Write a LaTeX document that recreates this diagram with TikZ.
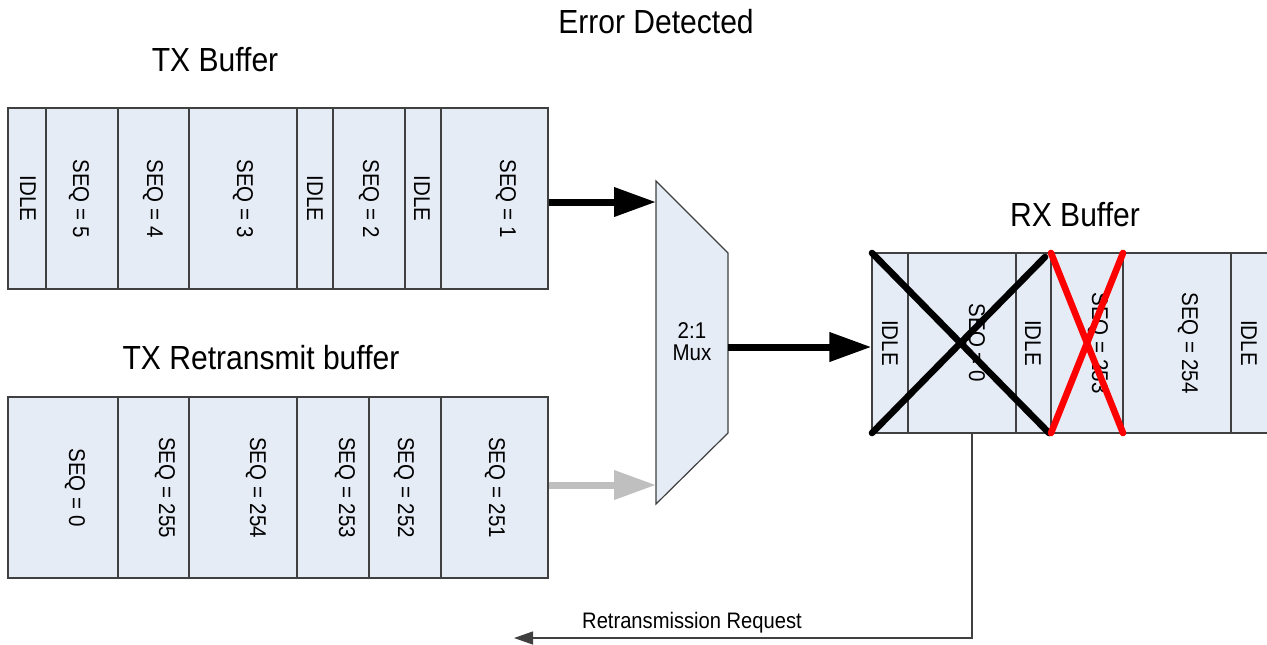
\documentclass[tikz,border=0pt]{standalone}
\usepackage{fontspec}
\setmainfont[FakeStretch=0.9]{Liberation Sans}
\usetikzlibrary{arrows.meta}
\definecolor{cellblue}{RGB}{230,236,246}
\definecolor{edgegray}{RGB}{64,64,64}
\definecolor{arrowgray}{RGB}{191,191,191}
\begin{document}
\begin{tikzpicture}[x=0.5pt,y=0.5pt]
    \tikzstyle{buffer} = [draw = edgegray, fill = cellblue, line width = 0.6pt, inner sep = 0pt]
    \tikzstyle{divider} = [draw = edgegray, line width = 0.6pt]
    \tikzstyle{seq} = [rotate = -90, inner sep = 0pt, font = \fontsize{11.4}{13}\selectfont]
    \tikzstyle{title} = [font = \fontsize{16.7}{20}\selectfont]
    \tikzstyle{arrowbig} = [line width = 3.5pt, -{Triangle[length = 21pt, width = 14pt]}]
    \tikzstyle{arrowthin} = [line width = 0.6pt, draw = edgegray, -{Triangle[length = 9.5pt, width = 6.5pt]}]
    \tikzstyle{cross} = [line width = 3.3pt, line cap = round]
    \useasboundingbox (0,0) rectangle (1267,-644);
    % titles
    \node[title](err) at (656,-22){Error Detected};
    \node[title](txt) at (215,-60){TX Buffer};
    \node[title](rtxt) at (261,-358){TX Retransmit buffer};
    \node[title](rxt) at (1075,-215){RX Buffer};
    % buffers
    \node[buffer, minimum width = 270pt, minimum height = 90.5pt](TX) at (278,-198.5){};
    \node[buffer, minimum width = 270pt, minimum height = 90.5pt](RTX) at (278,-487.5){};
    \node[buffer, minimum width = 198pt, minimum height = 90pt](RX) at (1070,-343){};
    \foreach \x in {46,118,189,297,333,405,441}
        \draw[divider] (\x,0 |- TX.north) -- (\x,0 |- TX.south);
    \foreach \x in {118,189,297,369,441}
        \draw[divider] (\x,0 |- RTX.north) -- (\x,0 |- RTX.south);
    \foreach \x in {908,1016,1051,1123,1231}
        \draw[divider] (\x,0 |- RX.north) -- (\x,0 |- RX.south);
    \foreach \x/\t [count=\i] in {28/IDLE, 79/SEQ = 5, 153/SEQ = 4, 243/SEQ = 3, 315/IDLE, 369/SEQ = 2, 422/IDLE, 506/SEQ = 1}
        \node[seq](tx\i) at (\x,0 |- TX.center){\t};
    \foreach \x/\t [count=\i] in {75/SEQ = 0, 165/SEQ = 255, 256/SEQ = 254, 345/SEQ = 253, 404/SEQ = 252, 495/SEQ = 251}
        \node[seq](rtx\i) at (\x,0 |- RTX.center){\t};
    \foreach \x/\t [count=\i] in {890/IDLE, 975/SEQ = 0, 1033/IDLE, 1098/SEQ = 253, 1188/SEQ = 254, 1249/IDLE}
        \node[seq](rx\i) at (\x,0 |- RX.center){\t};
    % mux
    \draw[buffer] (656,-181) -- (728,-253) -- (728,-433) -- (656,-504) -- cycle;
    \node[align = center, font = \fontsize{11.4}{11}\selectfont](M) at (692,-342){2:1\\Mux};
    \coordinate (in1) at (656,-202);
    \coordinate (in2) at (656,-485);
    \coordinate (out) at (728,-347);
    \draw[arrowbig] (TX.east |- in1) -- (in1);
    \draw[arrowbig, arrowgray] (RTX.east |- in2) -- (in2);
    \draw[arrowbig] (out) -- (RX.west |- out);
    % dropped frames
    \draw[cross] (872,-253) -- (1049,-433);
    \draw[cross] (872,-433) -- (1045,-257);
    \draw[cross, red] (1051,-253) -- (1123,-433);
    \draw[cross, red] (1051,-433) -- (1123,-253);
    % request back to tx
    \coordinate (req) at (972,-638);
    \coordinate (reqend) at (514,-638);
    \draw[arrowthin] (RX.south -| req) -- (req) -- (reqend);
    \node[font = \fontsize{11.2}{13}\selectfont](reqt) at (692,-623){Retransmission Request};
\end{tikzpicture}
\end{document}
